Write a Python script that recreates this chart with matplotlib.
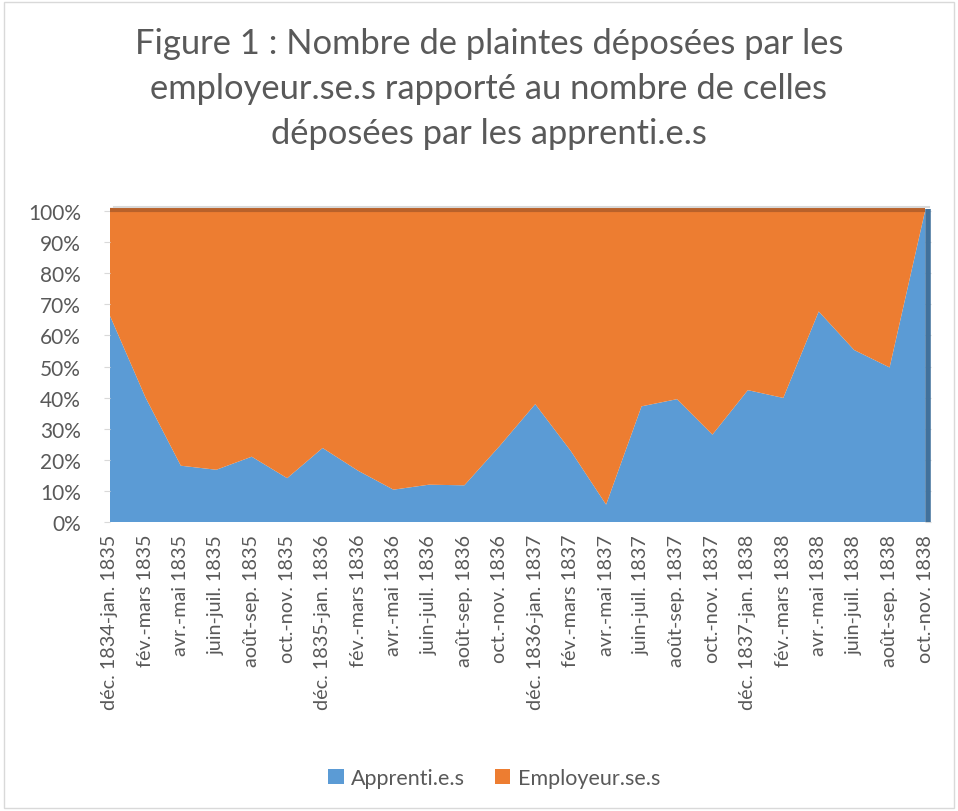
import matplotlib.pyplot as plt
from matplotlib.patches import Rectangle

periodes = [
    "déc. 1834-jan. 1835", "fév.-mars 1835", "avr.-mai 1835", "juin-juil. 1835",
    "août-sep. 1835", "oct.-nov. 1835", "déc. 1835-jan. 1836", "fév.-mars 1836",
    "avr.-mai 1836", "juin-juil. 1836", "août-sep. 1836", "oct.-nov. 1836",
    "déc. 1836-jan. 1837", "fév.-mars 1837", "avr.-mai 1837", "juin-juil. 1837",
    "août-sep. 1837", "oct.-nov. 1837", "déc. 1837-jan. 1838", "fév.-mars 1838",
    "avr.-mai 1838", "juin-juil. 1838", "août-sep. 1838", "oct.-nov. 1838",
]
# part des plaintes des apprenti.e.s (%)
apprentis = [66.3, 40.1, 18.1, 16.8, 21.0, 14.1, 23.8, 16.5, 10.4, 12.0, 11.8, 24.5,
             37.9, 22.9, 5.6, 37.2, 39.5, 28.1, 42.4, 39.9, 67.7, 55.3, 49.7, 100.0]
employeurs = [100 - a for a in apprentis]

bleu = "#5B9BD5"
orange = "#ED7D31"
gris = "#595959"

plt.rcParams["font.family"] = ["Lato", "DejaVu Sans"]

fig = plt.figure(figsize=(9.58, 8.12), dpi=100)
fig.patches.append(Rectangle((0.004, 0.004), 0.992, 0.992, transform=fig.transFigure,
                             fill=False, edgecolor="#d9d9d9", linewidth=1))

ax = fig.add_axes([0.1148, 0.3559, 0.8508, 0.383])
x = list(range(len(periodes)))
ax.stackplot(x, [apprentis, employeurs], colors=[bleu, orange],
             labels=["Apprenti.e.s", "Employeur.se.s"])

# petit effet 3D : arete superieure et face laterale
ax.plot([0, len(x) - 1], [100.4, 100.4], color="#B8612A", linewidth=3, solid_capstyle="butt",
        clip_on=False)
ax.plot([0.1, len(x) - 0.9], [101.3, 101.3], color="#d9d9d9", linewidth=1.5, clip_on=False)
ax.plot([len(x) - 1 + 0.08, len(x) - 1 + 0.08], [0, 100.5], color="#41719C", linewidth=4,
        solid_capstyle="butt", clip_on=False)

ax.set_xlim(0, len(x) - 1)
ax.set_ylim(0, 100)
ax.set_yticks(range(0, 101, 10))
ax.set_yticklabels([f"{v}%" for v in range(0, 101, 10)], fontsize=15, color=gris)
ax.set_xticks(x)
ax.set_xticklabels(periodes, rotation=90, fontsize=14.2, color=gris)
ax.tick_params(axis="y", length=4, color="#d9d9d9", pad=17, right=True)
ax.tick_params(axis="x", length=0, pad=8.5)
for s in ax.spines.values():
    s.set_visible(False)

fig.text(0.5104, 0.966, "Figure 1 : Nombre de plaintes déposées par les\n"
         "employeur.se.s rapporté au nombre de celles\n"
         "déposées par les apprenti.e.s",
         ha="center", va="top", fontsize=24.8, color=gris, linespacing=1.5)

fig.legend(loc="center", bbox_to_anchor=(0.516, 0.041), ncol=2, frameon=False,
           fontsize=15.5, labelcolor=gris, handlelength=0.7, handleheight=0.7,
           columnspacing=1.4, handletextpad=0.35)

fig.savefig("out.png", dpi=100)
